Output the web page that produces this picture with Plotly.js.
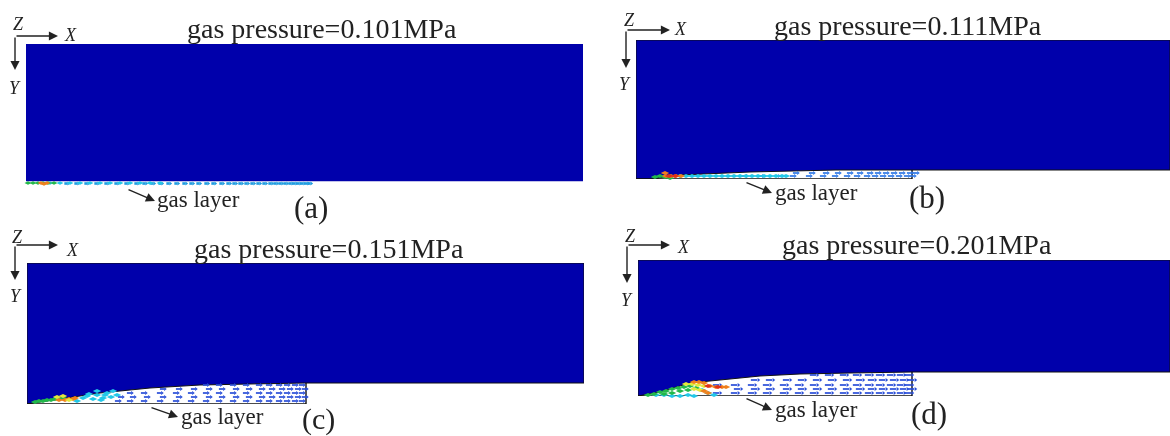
<!DOCTYPE html>
<html><head><meta charset="utf-8">
<script src="https://cdn.plot.ly/plotly-3.0.1.min.js"></script>
<style>html,body{margin:0;padding:0;background:#fff;overflow:hidden}#c{width:1170px;height:436px;filter:blur(0.5px)}</style>
</head><body><div id="c"></div>
<script>
const panelTitles = ["gas pressure=0.101MPa","gas pressure=0.111MPa","gas pressure=0.151MPa","gas pressure=0.201MPa"];
const panelLetters = ["(a)","(b)","(c)","(d)"];
// Gas/liquid interface profile for each panel (distance along wall, distance from top of liquid)
const profileXa = [0,287];              const profileYa = [137,137];
const profileXb = [0,17,44,114,200,276]; const profileYb = [139,139,135,132,130,130];
const profileXc = [0,33,73,123,173,223,279]; const profileYc = [141,136,130,125,122,121,120];
const profileXd = [0,22,52,82,122,162,212,274]; const profileYd = [136,132,123,120,116,114,113,112];
// Extent of each panel: liquid width, liquid depth away from the gas, wall depth
const liquidWidth = [557,534,557,532];
const liquidDepth = [137,130,120,112];
const wallDepth   = [141,139,141,136];
// Velocity glyph columns and rows (column position; row depth; first column in that row)
const colsA = [40,50,60,70,80,90,100,110,118,126,134,142,150,158,165,172,180,187,195,202,208,214,220,226,232,238,244,249,254,259,264,268,272,276,280,283];
const rowsA = [139.5]; const startA = [30];
const colsB = [60,76,92,108,124,140,156,172,186,198,210,220,230,238,246,254,262,270,276];
const rowsB = [136,133]; const startB = [100,156];
const colsC = [90,102,116,132,148,163,178,191,205,218,231,241,251,259,267,274];
const rowsC = [138,134,130,126,122]; const startC = [84,90,102,132,178];
const colsD = [60,78,96,113,128,145,160,175,190,205,218,230,241,252,262,270];
const rowsD = [133,129,125,120,115]; const startD = [78,84,78,113,175];
// Hot-colour glyphs near the leading edge: x, y per colour group
const hotA = {cyan:[[24,34,44,54,64,74,84,94,104,114,124,134],[139,139,139,139,139,139,139,139,139,139,139,139]],
  green:[[2,7,12,17,22,28],[139,139,139,139,139,139]], orange:[[15,18,21],[139,140,139]]};
const hotB = {cyan:[[44,50,56,62,68,74,80,86,92,98,104,110,116,122,128,134,140,146,150],[136,136,136,136,136,136,136,136,136,136,136,136,136,136,136,136,136,136,136]],
  green:[[19,24,29,34],[137,136,137,138]], orange:[[30,35,40,45,29],[136,136,136,136,133]], red:[[33,39],[136,136]]};
const hotC = {cyan:[[50,56,60,66,70,76,80,84,90,62,70,78,86,74],[138,135,133,136,132,135,130,134,132,131,128,132,128,137]],
  green:[[8,12,16,20,24,28,32,36],[139,138,138,137,137,136,136,135]], orange:[[38,42,46,48,32],[137,136,136,135,137]], yellow:[[30,36,42],[134,133,137]]};
const hotD = {cyan:[[18,26,34,42,50,56,64,70,76,32,44],[135,135,136,136,135,136,130,133,135,137,138]],
  green:[[10,16,22,28,34,40,46,52,26,34,42,50,58],[135,134,132,131,129,128,127,126,134,133,131,130,128]],
  yellow:[[48,54,60,66,56,62],[124,124,125,126,129,130]], orange:[[56,61,66,72,78,84,88,66,70,60],[122,122,123,126,127,127,127,131,133,138]],
  red:[[70,80],[126,127]]};

const hotColors = {cyan:"#22c8e8",green:"#22b84a",yellow:"#e4e83a",orange:"#f0801c",red:"#e03018"};
const boxes = [
 {l:26,t:44,w:557,h:141},{l:636,t:40,w:534,h:139},{l:27,t:263,w:557,h:141},{l:638,t:260,w:532,h:136}];
const W=1170,H=436;
const px=x=>x/W, py=y=>1-y/H;
const sets=[
 {px:profileXa,py:profileYa,c:colsA,r:rowsA,s:startA,hot:hotA,edge:"#0000ab",gl:"#1f9ce0",len:2.4},
 {px:profileXb,py:profileYb,c:colsB,r:rowsB,s:startB,hot:hotB,edge:"#111",gl:"#2f78e6",len:3},
 {px:profileXc,py:profileYc,c:colsC,r:rowsC,s:startC,hot:hotC,edge:"#111",gl:"#2a4fd8",len:3},
 {px:profileXd,py:profileYd,c:colsD,r:rowsD,s:startD,hot:hotD,edge:"#111",gl:"#2a4fd8",len:4.5}];
const traces=[],layout={width:W,height:H,margin:{l:0,r:0,t:0,b:0},showlegend:false,paper_bgcolor:"#fff",plot_bgcolor:"rgba(0,0,0,0)",annotations:[]};
sets.forEach((s,i)=>{
  const b=boxes[i],n=i?String(i+1):"",ax={xaxis:"x"+n,yaxis:"y"+n};
  const base={visible:false,fixedrange:true};
  layout["xaxis"+n]=Object.assign({domain:[px(b.l),px(b.l+b.w)],range:[0,b.w],anchor:"y"+n},base);
  layout["yaxis"+n]=Object.assign({domain:[py(b.t+b.h),py(b.t)],range:[b.h,0],anchor:"x"+n},base);
  const last=s.px.length-1;
  traces.push(Object.assign({type:"scatter",mode:"lines",fill:"toself",fillcolor:"#0000ab",
    line:{color:s.edge,width:i?1:0.5},hoverinfo:"skip",cliponaxis:false,
    x:[0,liquidWidth[i],liquidWidth[i]].concat(s.px.slice().reverse()).concat([0]),
    y:[0,0,liquidDepth[i]].concat(s.py.slice().reverse()).concat([0])},ax));
  if(i) traces.push(Object.assign({type:"scatter",mode:"lines",line:{color:"#111",width:1.4},hoverinfo:"skip",cliponaxis:false,
    x:[s.px[last],s.px[last],0],y:[s.py[last],wallDepth[i],wallDepth[i]]},ax));
  const gx=[],gy=[];
  s.r.forEach((d,k)=>s.c.forEach((c,m)=>{if(c>=s.s[k]){gx.push(c+(k%2)*3);gy.push(d);}}));
  traces.push(Object.assign({type:"scatter",mode:"markers",hoverinfo:"skip",cliponaxis:false,x:gx,y:gy,
    marker:{symbol:"line-ew",size:s.len,line:{color:s.gl,width:i==0?2.6:1.7}}},ax));
  traces.push(Object.assign({type:"scatter",mode:"markers",hoverinfo:"skip",cliponaxis:false,x:gx.map(v=>v+s.len),y:gy,
    marker:{symbol:"triangle-right",size:3.5,color:s.gl,line:{width:0}}},ax));
  Object.keys(s.hot).forEach(k=>traces.push(Object.assign({type:"scatter",mode:"markers",hoverinfo:"skip",cliponaxis:false,
    x:s.hot[k][0],y:s.hot[k][1],marker:{symbol:"diamond-wide",size:i==0?5:6,color:hotColors[k],line:{width:0}}},ax)));
});
const serif="Liberation Serif";
function txt(t,x,y,size,it,col){layout.annotations.push({xref:"paper",yref:"paper",x:px(x),y:py(y),xanchor:"center",yanchor:"middle",showarrow:false,
  text:it?"<i>"+t+"</i>":t,font:{family:serif,size:size,color:col||"#222"}});}
function arrow(x0,y0,x1,y1,sz){layout.annotations.push({xref:"paper",yref:"paper",axref:"paper",ayref:"paper",x:px(x1),y:py(y1),ax:px(x0),ay:py(y0),text:"",
  showarrow:true,arrowhead:2,arrowsize:sz||1.3,arrowwidth:1.4,arrowcolor:"#222"});}
const titleAt=[[322,28],[908,25],[329,249],[917,244]];
const letterAt=[[311,207],[927,197],[318,419],[929,413]];
const layerAt=[[198,199],[816,192],[222,416],[816,409]];
const pointer=[[127,189,155,201],[745,182,772,193],[150,407,178,417],[745,398,772,410]];
const triad=[[15,36,58,70,18,24,70,35,15,88],[626,30,670,68,629,20,680,29,625,84],[15,245,58,280,17,237,72,250,16,296],[627,245,670,283,630,236,683,247,627,300]];
panelTitles.forEach((t,i)=>{
  txt(t,titleAt[i][0],titleAt[i][1],28);
  txt(panelLetters[i],letterAt[i][0],letterAt[i][1],i==2?30:31);
  txt("gas layer",layerAt[i][0],layerAt[i][1],23);
  const p=pointer[i];arrow(p[0],p[1],p[2],p[3]);
  const a=triad[i];
  arrow(a[0],a[1],a[2],a[1]);arrow(a[0],a[1],a[0],a[3]);
  txt("Z",a[4],a[5],18,true);txt("X",a[6],a[7],18,true);txt("Y",a[8],a[9],18,true);
});
Plotly.newPlot("c",traces,layout,{displayModeBar:false,staticPlot:true});
</script></body></html>
